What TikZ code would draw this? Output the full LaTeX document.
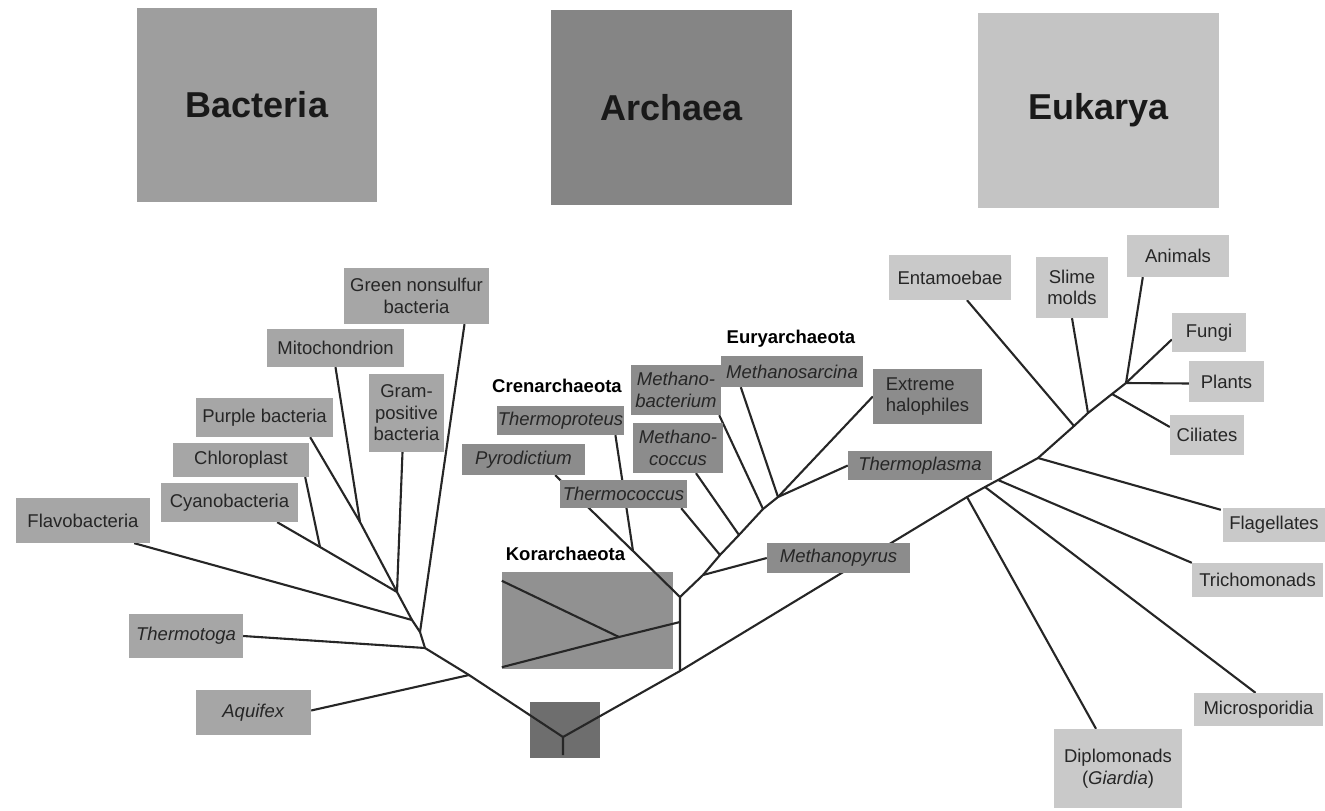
\documentclass[tikz,border=0pt]{standalone}
\usepackage{fontspec}
\setmainfont{Liberation Sans}
\pgfdeclarelayer{bg}
\pgfsetlayers{bg,main}
\definecolor{bactbig}{gray}{0.62}
\definecolor{archbig}{gray}{0.52}
\definecolor{eukbig}{gray}{0.77}
\definecolor{bactgray}{gray}{0.65}
\definecolor{archgray}{gray}{0.55}
\definecolor{eukgray}{gray}{0.79}
\definecolor{korgray}{gray}{0.57}
\definecolor{rootgray}{gray}{0.43}
\tikzset{
  wh/.style 2 args={minimum width=#1,minimum height=#2},
  box/.style={fill=#1,inner sep=1pt,align=center,text=black!85,font=\fontsize{18.5}{21.5}\selectfont},
  domain/.style={fill=#1,inner sep=0pt,text=black!90,font=\fontsize{36}{40}\selectfont\bfseries},
  clade/.style={inner sep=0pt,font=\fontsize{18.5}{21.5}\selectfont\bfseries},
  branch/.style={line width=2.1pt,black!85}
}
\begin{document}
\begin{tikzpicture}[x=1pt,y=-1pt]
  \useasboundingbox (0,0) rectangle (1325,811);
  \node[domain=bactbig,wh={240}{194}] (bacteria) at (257,105) {Bacteria};
  \node[domain=archbig,wh={241}{195}] (archaea) at (671.5,107.5) {Archaea};
  \node[domain=eukbig,wh={241}{195}] (eukarya) at (1098.5,110.5) {Eukarya};

  \node[box=bactgray,wh={145}{56}] (green) at (416.5,296) {Green nonsulfur\\bacteria};
  \node[box=bactgray,wh={137}{38}] (mito) at (335.5,348) {Mitochondrion};
  \node[box=bactgray,wh={75}{78}] (gram) at (406.5,413) {Gram-\\positive\\bacteria};
  \node[box=bactgray,wh={137}{39}] (purple) at (264.5,417.5) {Purple bacteria};
  \node[box=bactgray,wh={136}{34}] (chloro) at (241,460) {Chloroplast};
  \node[box=bactgray,wh={137}{39}] (cyano) at (229.5,502.5) {Cyanobacteria};
  \node[box=bactgray,wh={134}{45}] (flavo) at (83,520.5) {Flavobacteria};
  \node[box=bactgray,wh={114}{44}] (thermotoga) at (186,636) {\textit{Thermotoga}};
  \node[box=bactgray,wh={115}{45}] (aquifex) at (253.5,712.5) {\textit{Aquifex}};

  \node[clade] (cren) at (557,386) {Crenarchaeota};
  \node[clade] (eury) at (791,339) {Euryarchaeota};
  \node[clade] (korlabel) at (565.5,554) {Korarchaeota};
  \node[box=archgray,wh={127}{29}] (thermoproteus) at (560.5,420.5) {\textit{Thermoproteus}};
  \node[box=archgray,wh={123}{31}] (pyro) at (523.5,459.5) {\textit{Pyrodictium}};
  \node[box=archgray,wh={127}{28}] (thermococcus) at (623.5,494) {\textit{Thermococcus}};
  \node[box=archgray,wh={90}{50}] (mcoccus) at (678,448) {\textit{Methano-}\\\textit{coccus}};
  \node[box=archgray,wh={90}{50}] (mbact) at (676,390) {\textit{Methano-}\\\textit{bacterium}};
  \node[box=archgray,wh={142}{31}] (msarcina) at (792,371.5) {\textit{Methanosarcina}};
  \node[box=archgray,wh={109}{55},align=left] (halo) at (927.5,396.5) {Extreme\\halophiles};
  \node[box=archgray,wh={144}{29}] (tplasma) at (920,465.5) {\textit{Thermoplasma}};
  \node[box=archgray,wh={143}{30}] (mpyrus) at (838.5,558) {\textit{Methanopyrus}};

  \node[box=eukgray,wh={122}{45}] (entamoebae) at (950,277.5) {Entamoebae};
  \node[box=eukgray,wh={72}{61}] (slime) at (1072,287.5) {Slime\\molds};
  \node[box=eukgray,wh={102}{42}] (animals) at (1178,256) {Animals};
  \node[box=eukgray,wh={74}{39}] (fungi) at (1209,332.5) {Fungi};
  \node[box=eukgray,wh={75}{41}] (plants) at (1226.5,381.5) {Plants};
  \node[box=eukgray,wh={74}{40}] (ciliates) at (1207,435) {Ciliates};
  \node[box=eukgray,wh={102}{34}] (flagellates) at (1274,525) {Flagellates};
  \node[box=eukgray,wh={131}{34}] (tricho) at (1257.5,580) {Trichomonads};
  \node[box=eukgray,wh={129}{33}] (micro) at (1258.5,709.5) {Microsporidia};
  \node[box=eukgray,wh={128}{79}] (diplo) at (1118,768.5) {Diplomonads\\(\textit{Giardia})};

  \coordinate (r) at (563,737);
  \coordinate (rs) at (563,755);
  \coordinate (b0) at (469,675);
  \coordinate (b1) at (425,648);
  \coordinate (b2) at (420,632);
  \coordinate (b3) at (412,620);
  \coordinate (b4) at (397,592);
  \coordinate (b5) at (360,522);
  \coordinate (b6) at (320,547);
  \coordinate (a0) at (680,671);
  \coordinate (a1) at (680,597);
  \coordinate (k0) at (680,622);
  \coordinate (k1) at (619,637);
  \coordinate (c1) at (633,551);
  \coordinate (e1) at (703,575);
  \coordinate (e2) at (720,555);
  \coordinate (e3) at (739,535);
  \coordinate (e4) at (763,509);
  \coordinate (e5) at (778,497);
  \coordinate (u1) at (967,497);
  \coordinate (u2) at (985,487);
  \coordinate (u3) at (998,480);
  \coordinate (u4) at (1038,458);
  \coordinate (u5) at (1074,426);
  \coordinate (u6) at (1088,413);
  \coordinate (u7) at (1112,394);
  \coordinate (u8) at (1126,383);

  \begin{pgfonlayer}{bg}
  \fill[white] (0,0) rectangle (1325,811);
  \node[box=rootgray,wh={70}{56}] (root) at (565,730) {};
  \node[box=korgray,wh={171}{97}] (kor) at (587.5,620.5) {};
  % Bacteria
  \draw[branch] (rs) -- (r) -- (b0) -- (b1) -- (b2) -- (b3) -- (b4) -- (b5) -- (mito.south);
  \draw[branch] (b0) -- ([yshift=2]aquifex.east);
  \draw[branch] (b1) -- (thermotoga.east);
  \draw[branch] (b2) -- ([xshift=48]green.south);
  \draw[branch] (b3) -- ([xshift=-16]flavo.south east);
  \draw[branch] (b4) -- ([xshift=-4]gram.south);
  \draw[branch] (b4) -- (b6) -- ([xshift=-21]cyano.south east);
  \draw[branch] (b5) -- ([xshift=-23]purple.south east);
  \draw[branch] (b6) -- ([xshift=-4]chloro.south east);
  % Archaea
  \draw[branch] (r) -- (a0) -- (k0) -- (a1) -- (c1) -- ([xshift=-30]pyro.south east);
  \draw[branch] (c1) -- ([xshift=-9]thermoproteus.south east);
  \draw[branch] (k0) -- (k1) -- ([yshift=2]kor.south west);
  \draw[branch] (k1) -- ([yshift=-9]kor.north west);
  \draw[branch] (a1) -- (e1) -- (e2) -- (e3) -- (e4) -- (e5) -- ([xshift=20]msarcina.south west);
  \draw[branch] (e1) -- (mpyrus.west);
  \draw[branch] (e2) -- ([xshift=-6]thermococcus.south east);
  \draw[branch] (e3) -- ([xshift=18]mcoccus.south);
  \draw[branch] (e4) -- ([xshift=-2]mbact.south east);
  \draw[branch] (e5) -- (halo.west);
  \draw[branch] (e5) -- (tplasma.west);
  % Eukarya
  \draw[branch] (a0) -- (u1) -- (u2) -- (u3) -- (u4) -- (u5) -- (u6) -- (u7) -- (u8) -- ([yshift=-2]plants.west);
  \draw[branch] (u1) -- ([xshift=-22]diplo.north);
  \draw[branch] (u2) -- ([xshift=-3]micro.north);
  \draw[branch] (u3) -- (tricho.north west);
  \draw[branch] (u4) -- ([xshift=-2,yshift=-2]flagellates.north west);
  \draw[branch] (u5) -- ([xshift=17]entamoebae.south);
  \draw[branch] (u6) -- (slime.south);
  \draw[branch] (u7) -- ([yshift=8]ciliates.west);
  \draw[branch] (u8) -- ([xshift=16]animals.south west);
  \draw[branch] (u8) -- ([yshift=-7]fungi.west);
  \end{pgfonlayer}
\end{tikzpicture}
\end{document}
